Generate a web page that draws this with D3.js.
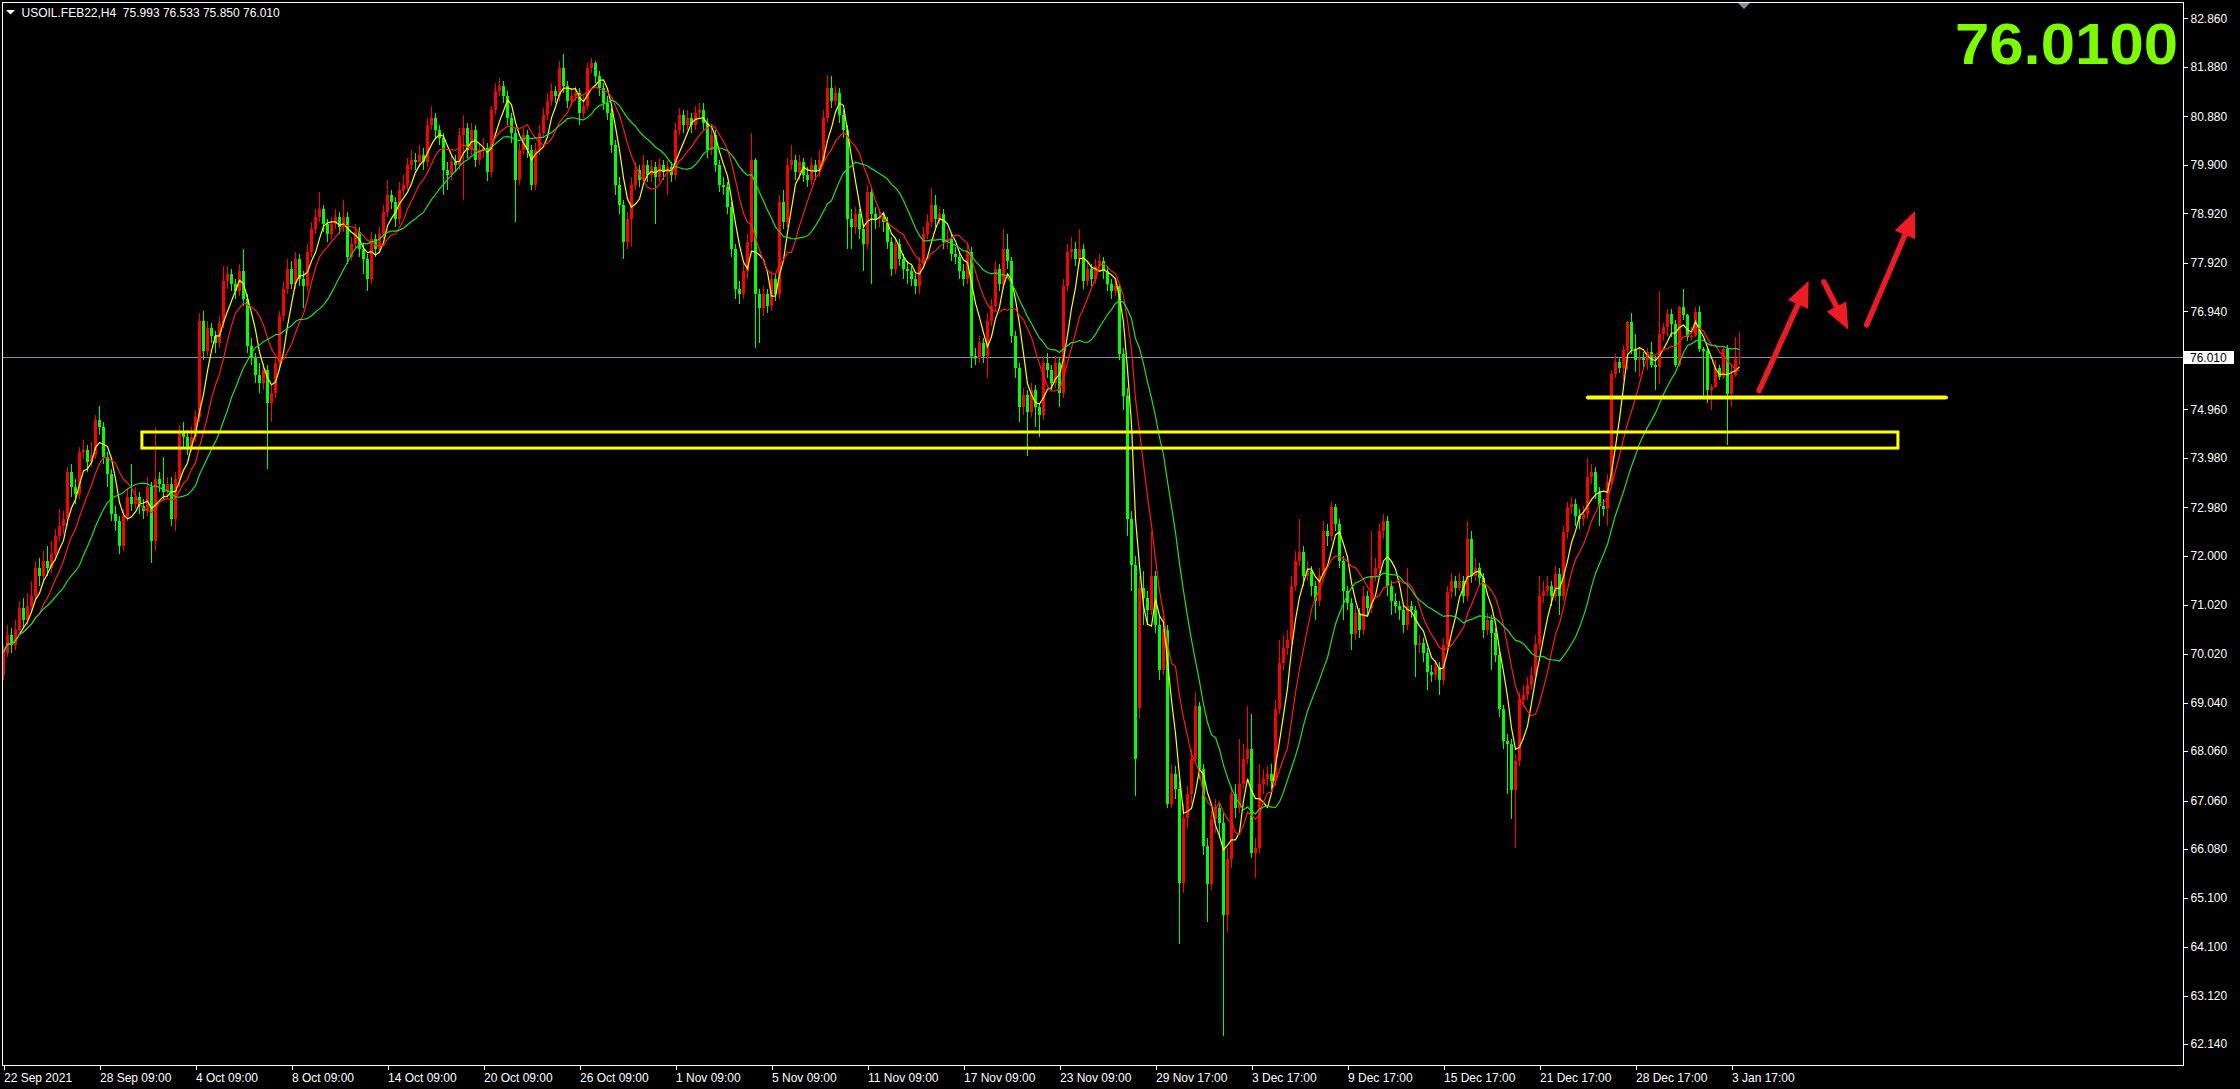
<!DOCTYPE html>
<html><head><meta charset="utf-8">
<script src="https://cdn.jsdelivr.net/npm/d3@7"></script>
<style>html,body{margin:0;padding:0;background:#000;overflow:hidden}</style>
</head><body>
<svg id="c" width="2240" height="1089" style="display:block;background:#000"></svg>
<script>
// ---------- data ----------
const symbolTitle = "USOIL.FEB22,H4";
const headerValues = ["75.993", "76.533", "75.850", "76.010"];
const bigPriceText = "76.0100";
const lastPrice = 76.01;
const lastPriceLabel = "76.010";

const closes = [
70.05,70.4,70.2,70.5,70.95,70.7,71.0,71.2,71.75,71.6,
71.9,71.75,72.05,72.4,72.6,72.75,73.7,73.4,73.25,74.1,
74.15,73.9,74.05,74.75,74.6,74.0,73.65,72.85,72.7,72.2,
72.8,73.2,73.05,73.2,73.0,72.9,73.4,72.3,73.55,73.45,
73.3,73.45,72.75,73.55,74.5,74.4,74.2,74.4,74.8,76.75,
76.15,76.6,76.45,76.3,76.7,77.55,77.7,77.5,77.35,77.75,
77.2,76.25,76.0,75.65,75.5,75.75,75.1,75.3,75.9,76.85,
77.4,77.8,77.5,78.0,77.6,77.45,78.15,78.6,78.85,79.0,
78.7,78.5,78.7,78.85,78.65,78.85,78.05,78.3,78.55,78.2,
78.0,77.6,78.4,78.2,78.5,78.95,79.3,79.15,78.8,79.4,
79.5,79.9,80.0,79.95,80.1,79.95,80.7,80.85,80.6,80.45,
79.8,79.7,79.95,79.9,80.5,80.65,80.2,80.6,80.0,80.2,
80.25,79.75,81.0,81.4,81.5,81.3,80.85,80.55,79.6,80.2,
80.5,80.2,79.5,80.2,80.55,80.9,81.2,81.4,81.3,81.85,
81.5,81.2,81.3,81.35,80.95,81.1,81.85,81.95,81.7,81.45,
81.15,80.95,80.3,79.5,79.1,78.35,78.8,79.5,79.8,79.6,
79.9,79.7,79.85,79.65,79.9,79.75,79.85,79.7,80.6,80.9,
80.7,80.85,80.7,80.95,81.0,80.75,80.2,80.5,79.9,79.5,
79.45,79.05,78.2,77.4,77.3,77.75,78.35,80.0,77.3,77.0,
77.3,77.05,77.6,77.3,79.15,78.75,79.9,80.0,79.75,79.95,
79.7,79.6,79.9,79.75,80.0,80.85,81.45,81.2,81.35,80.9,
80.6,78.8,78.65,78.9,78.6,78.3,79.35,78.9,78.8,78.85,
78.75,78.35,77.8,78.3,78.0,77.8,77.75,77.6,77.45,77.9,
78.5,78.75,79.1,78.8,78.9,78.35,78.4,78.1,78.05,77.75,
77.6,78.15,76.05,76.0,76.3,76.05,76.75,77.05,77.8,77.5,
78.2,77.95,76.45,75.8,75.0,75.25,74.9,75.35,75.0,74.85,
75.9,75.75,75.5,75.9,75.3,77.45,78.15,78.2,78.0,78.2,
77.55,77.8,77.6,77.85,77.95,77.75,77.5,77.35,77.45,76.08,
75.23,72.75,71.81,67.9,71.36,71.15,70.9,71.6,70.6,69.7,
70.5,67.0,67.6,67.3,65.4,66.7,67.2,67.9,68.97,67.7,
66.15,65.38,66.68,66.9,66.6,64.75,65.87,67.2,66.9,67.4,
67.9,68.1,66.0,66.1,67.4,67.5,67.6,67.45,68.9,69.83,
70.15,70.3,71.4,71.9,72.08,71.6,71.7,71.4,71.1,71.6,
72.5,72.4,72.98,72.65,71.9,71.3,71.05,70.42,70.85,70.5,
71.2,70.95,71.6,71.75,72.5,72.7,71.4,71.1,71.0,70.9,
70.6,71.0,70.9,70.2,70.25,70.05,69.65,69.6,69.75,69.5,
70.2,71.27,71.5,71.35,71.5,71.2,72.35,71.6,71.75,71.55,
70.5,70.7,70.45,70.0,68.9,68.26,68.2,67.27,67.85,69.1,
69.2,69.4,69.6,70.23,71.2,71.3,71.4,71.2,71.63,71.2,
72.48,72.98,73.05,72.8,72.75,72.85,73.6,73.7,73.3,73.0,
72.95,73.5,75.68,75.92,75.8,76.17,76.72,76.19,75.95,76.0,
75.95,76.12,75.85,75.82,76.49,76.62,76.89,76.69,75.85,77.03,
76.86,76.42,76.45,76.93,76.19,76.15,75.35,75.42,75.8,75.62,
76.19,75.28,75.65,75.98,76.01];

const highs = [
70.2,70.6,70.55,70.7,71.1,71.15,71.25,71.5,71.9,71.95,
72.1,72.2,72.3,72.55,72.95,72.9,73.8,73.85,73.55,74.2,
74.35,74.25,74.3,74.85,75.03,74.7,74.1,73.75,73.0,72.8,
72.95,73.35,73.85,73.4,73.3,73.15,73.6,73.5,74.6,73.7,
74.0,73.6,73.6,73.7,74.65,74.7,74.55,74.6,74.95,76.9,
76.95,76.75,76.7,76.55,76.85,77.85,77.85,77.8,77.6,77.9,
78.2,77.3,76.4,76.1,75.9,75.9,75.85,75.45,76.0,76.95,
77.55,78.0,77.95,78.15,78.1,77.75,78.3,78.75,79.0,79.35,
79.1,78.8,78.85,79.0,78.95,79.2,78.95,78.45,78.7,78.65,
78.3,78.1,78.55,78.5,78.65,79.1,79.6,79.4,79.25,79.55,
79.7,80.05,80.2,80.15,80.3,80.25,80.85,81.1,80.95,80.7,
80.55,79.95,80.1,80.1,80.65,80.9,80.75,80.75,80.7,80.35,
80.45,80.35,81.1,81.55,81.66,81.6,81.4,80.95,80.65,80.35,
80.65,80.6,80.3,80.35,80.7,81.05,81.35,81.55,81.5,82.0,
82.15,81.6,81.45,81.5,81.45,81.3,81.95,82.05,82.0,81.8,
81.55,81.3,81.05,80.4,79.65,79.2,78.95,79.65,79.95,79.9,
80.1,80.0,80.0,79.95,80.05,80.0,80.0,79.95,80.75,81.05,
81.0,81.0,80.95,81.1,81.15,81.15,80.85,80.65,80.6,80.0,
79.65,79.55,79.15,78.3,77.55,77.95,78.5,80.55,80.05,77.4,
77.45,77.4,77.75,77.7,79.3,79.4,80.05,80.3,80.1,80.1,
80.05,79.85,80.05,80.0,80.2,81.0,81.72,81.7,81.5,81.45,
81.0,80.7,79.0,79.05,79.0,78.7,79.5,79.45,79.05,79.0,
78.95,78.85,78.45,78.45,78.4,78.1,77.95,77.85,77.7,78.05,
78.65,78.9,79.43,79.3,79.05,79.0,78.6,78.5,78.25,78.15,
77.9,78.3,78.25,76.2,76.45,76.4,76.9,77.2,77.95,77.9,
78.6,78.5,78.05,76.55,75.9,75.4,75.35,75.5,75.45,75.1,
76.05,76.1,75.85,76.05,76.0,77.6,78.3,78.45,78.35,78.6,
78.3,77.95,77.9,78.0,78.1,78.05,77.85,77.6,77.6,77.5,
76.2,75.4,72.9,72.0,71.6,71.7,71.3,72.48,71.7,70.8,
70.9,70.6,67.8,67.75,67.45,67.0,67.35,68.1,69.25,69.05,
67.8,66.3,66.85,67.1,67.0,66.8,66.1,67.35,67.4,68.3,
68.2,68.97,68.8,66.3,67.8,67.7,67.75,67.8,69.1,70.3,
70.4,70.5,71.6,72.1,72.75,72.2,71.9,71.8,71.5,71.75,
72.7,72.65,73.1,73.05,72.75,72.0,71.4,71.15,71.0,70.95,
71.4,71.3,72.5,71.95,72.65,72.85,72.8,71.5,71.25,71.1,
71.0,71.75,71.1,71.0,70.4,70.35,70.15,69.8,69.9,69.85,
70.35,71.4,71.65,71.6,71.65,71.6,72.71,72.5,71.95,71.85,
71.65,70.85,70.8,70.55,70.1,69.0,68.4,68.3,68.0,69.25,
69.4,69.55,69.75,70.4,71.6,71.5,71.6,71.5,71.8,71.75,
72.6,73.1,73.2,73.15,72.95,73.0,73.97,73.85,73.8,73.4,
73.15,73.65,75.75,76.08,76.0,76.26,76.75,76.9,76.49,76.22,
76.12,76.2,76.32,76.05,77.36,76.7,76.99,76.99,76.76,77.06,
77.4,76.89,76.62,77.03,77.06,76.22,76.22,75.48,75.95,75.85,
76.22,76.26,75.88,76.42,76.533];

const lows = [
69.5,69.95,70.05,70.1,70.4,70.55,70.6,70.85,71.1,71.4,
71.45,71.6,71.65,71.9,72.3,72.45,72.6,73.2,73.05,73.15,
73.95,73.7,73.8,73.95,74.45,73.85,73.4,72.7,72.5,72.05,
72.1,72.7,72.9,72.95,72.85,72.75,72.8,71.85,72.1,73.3,
73.15,73.15,72.6,72.5,73.4,74.2,74.05,74.1,74.3,74.7,
75.95,76.05,76.3,76.1,76.2,76.6,77.4,77.35,77.2,77.25,
77.05,76.1,75.85,75.5,75.3,75.35,73.75,74.7,75.2,75.8,
76.75,77.3,77.4,77.4,77.45,77.0,77.35,78.05,78.5,78.75,
78.55,78.35,78.4,78.6,78.5,78.55,77.9,77.95,78.2,78.05,
77.7,77.35,77.5,78.05,78.1,78.4,78.85,79.0,78.65,78.7,
79.3,79.4,79.8,79.8,79.85,79.8,79.85,80.6,80.45,80.3,
79.3,79.4,79.6,79.75,79.8,79.2,80.05,80.1,79.85,79.9,
80.05,79.57,79.65,80.9,81.3,81.15,80.7,80.35,78.74,79.5,
80.1,80.05,79.4,79.4,80.1,80.45,80.8,81.1,81.15,81.2,
81.35,81.05,81.1,81.2,80.7,80.85,81.0,81.75,81.55,81.3,
81.0,80.8,80.15,79.3,78.9,78.0,78.2,78.25,79.4,79.45,
79.5,79.55,79.55,78.7,79.55,79.6,79.3,79.55,79.6,80.5,
80.55,80.6,80.55,80.6,80.85,80.6,80.05,80.1,79.75,79.35,
79.3,78.9,78.05,77.2,77.1,77.2,77.6,78.2,76.2,76.3,
76.85,76.9,76.95,77.15,77.2,78.6,78.65,79.8,79.6,79.6,
79.55,79.45,79.5,79.6,79.65,79.9,80.75,81.05,81.1,80.75,
80.45,78.2,78.2,78.5,78.4,77.75,78.2,77.5,78.6,78.65,
78.55,78.2,77.65,77.7,77.85,77.6,77.5,77.45,77.3,77.3,
77.8,78.4,78.65,78.65,78.7,78.2,78.2,77.95,77.9,77.6,
77.45,77.5,75.8,75.85,75.9,75.9,75.6,76.65,76.95,77.35,
77.4,77.8,76.3,75.6,74.7,74.85,74.03,74.8,74.6,74.4,
74.75,75.6,75.35,75.4,75.0,75.2,77.35,78.0,77.85,77.9,
77.4,77.45,77.45,77.5,77.75,77.6,77.35,77.2,77.25,75.95,
74.95,72.4,71.3,67.15,68.7,70.6,70.6,70.8,70.45,69.5,
69.6,66.9,66.9,67.1,64.17,65.2,66.5,67.0,67.8,67.5,
65.95,64.6,65.25,66.4,66.3,62.3,64.4,65.7,66.7,66.8,
67.3,67.8,65.9,65.5,66.0,67.2,67.35,67.3,67.35,68.8,
69.7,70.0,70.2,71.3,71.8,71.4,71.5,71.2,70.7,71.0,
71.5,72.2,72.3,72.5,71.75,70.7,70.9,70.1,70.3,70.35,
70.4,70.8,70.85,71.5,71.65,72.35,71.2,70.8,70.85,70.7,
70.45,70.5,70.75,69.56,70.05,69.85,69.3,69.45,69.5,69.2,
69.4,70.1,71.15,71.2,71.3,71.05,71.1,71.45,71.5,71.4,
70.35,70.4,69.7,69.85,68.75,68.1,67.2,66.68,66.1,67.75,
68.95,69.1,69.3,69.5,70.1,71.05,71.2,71.0,71.1,70.8,
71.1,72.35,72.85,72.6,72.55,72.6,72.75,73.45,73.15,72.6,
72.8,72.6,73.4,75.6,75.7,75.55,75.75,76.08,75.72,75.61,
75.82,75.75,75.8,75.35,75.48,76.35,76.45,76.42,75.82,75.82,
76.76,76.35,76.35,76.42,76.12,75.21,75.1,74.94,75.4,75.55,
75.58,74.24,75.01,75.62,75.85];

// opens equal the previous close except where listed (gaps / first bar / current bar)
const openOverrideBars = [0, 284, 434];
const openOverrideValues = [69.6, 68.93, 75.993];

const maPeriods = [5, 10, 20];
const maColors = ["#ffff00", "#ff1a1a", "#22dd22"];

const yTickValues = [82.86,81.88,80.88,79.90,78.92,77.92,76.94,74.96,73.98,72.98,72.00,71.02,70.02,69.04,68.06,67.06,66.08,65.10,64.10,63.12,62.14];
const xTickBars = [0,24,48,72,96,120,144,168,192,216,240,264,288,312,336,360,384,408,432];
const xTickLabels = ["22 Sep 2021","28 Sep 09:00","4 Oct 09:00","8 Oct 09:00","14 Oct 09:00","20 Oct 09:00","26 Oct 09:00","1 Nov 09:00","5 Nov 09:00","11 Nov 09:00","17 Nov 09:00","23 Nov 09:00","29 Nov 17:00","3 Dec 17:00","9 Dec 17:00","15 Dec 17:00","21 Dec 17:00","28 Dec 17:00","3 Jan 17:00"];

// hand-drawn annotations (bar index, price)
const zoneBars = [34.6, 473.6];
const zonePrices = [74.18, 74.505];
const supportBars = [396.1, 485.6];
const supportPrice = 75.20;
const arrowTails = [[438.9, 75.34], [455.1, 77.54], [465.8, 76.67]];
const arrowTips  = [[451.3, 77.56], [461.2, 76.57], [477.9, 78.97]];

// ---------- layout ----------
const W = 2240, H = 1089;
const plotL = 2, plotT = 2, plotR = 2183, plotB = 1065;

const x = d3.scaleLinear().domain([0, 545]).range([3.5, 3.5 + 4 * 545]);
const y = d3.scaleLinear().domain([62.14, 82.86]).range([1044.1, 18.4]);

const svg = d3.select("#c");
const FONT = "'Liberation Sans', Arial, sans-serif";

svg.append("defs").append("clipPath").attr("id", "plot")
  .append("rect").attr("x", plotL + 1).attr("y", plotT + 1)
  .attr("width", plotR - plotL - 1).attr("height", plotB - plotT - 1);

const bars = closes.map((c, i) => {
  const k = openOverrideBars.indexOf(i);
  const o = k >= 0 ? openOverrideValues[k] : closes[i - 1];
  return { i, o, c, h: highs[i], l: lows[i] };
});

const g = svg.append("g").attr("clip-path", "url(#plot)");

// current price line
g.append("line").attr("x1", plotL).attr("x2", plotR)
  .attr("y1", Math.round(y(lastPrice)) + 0.5).attr("y2", Math.round(y(lastPrice)) + 0.5)
  .attr("stroke", "#8a919e").attr("stroke-width", 1);

// candles
const cg = g.append("g").attr("shape-rendering", "crispEdges");
const up = "#ff0000", dn = "#00ff00";
cg.selectAll("rect.w").data(bars).join("rect").attr("class", "w")
  .attr("x", d => x(d.i) - 0.5).attr("width", 1)
  .attr("y", d => Math.round(y(d.h)))
  .attr("height", d => Math.max(1, Math.round(y(d.l)) - Math.round(y(d.h))))
  .attr("fill", d => d.c >= d.o ? up : dn);
cg.selectAll("rect.b").data(bars).join("rect").attr("class", "b")
  .attr("x", d => x(d.i) - 1.5).attr("width", 3)
  .attr("y", d => Math.round(y(Math.max(d.o, d.c))))
  .attr("height", d => Math.max(1, Math.round(y(Math.min(d.o, d.c))) - Math.round(y(Math.max(d.o, d.c)))))
  .attr("fill", d => d.c >= d.o ? up : dn);

// moving averages (simple, on closes)
maPeriods.forEach((p, k) => {
  const ma = closes.map((c, i) => {
    const s = Math.max(0, i - p + 1);
    return d3.mean(closes.slice(s, i + 1));
  });
  g.append("path").datum(ma)
    .attr("fill", "none").attr("stroke", maColors[k]).attr("stroke-width", 1.2)
    .attr("d", d3.line().x((d, i) => x(i)).y(d => y(d)));
});

// yellow zone box
g.append("rect")
  .attr("x", x(zoneBars[0])).attr("y", y(zonePrices[1]))
  .attr("width", x(zoneBars[1]) - x(zoneBars[0]))
  .attr("height", y(zonePrices[0]) - y(zonePrices[1]))
  .attr("fill", "none").attr("stroke", "#ffff00").attr("stroke-width", 3);

// support line
g.append("line")
  .attr("x1", x(supportBars[0])).attr("x2", x(supportBars[1]))
  .attr("y1", y(supportPrice)).attr("y2", y(supportPrice))
  .attr("stroke", "#ffff00").attr("stroke-width", 4).attr("stroke-linecap", "round");

// red arrows
arrowTails.forEach((t, k) => {
  const p = arrowTips[k];
  const x0 = x(t[0]), y0 = y(t[1]), x1 = x(p[0]), y1 = y(p[1]);
  const dx = x1 - x0, dy = y1 - y0, L = Math.hypot(dx, dy);
  const ux = dx / L, uy = dy / L, px = -uy, py = ux;
  const hl = 26, hw = 11;
  const bx = x1 - ux * hl, by = y1 - uy * hl;
  g.append("line").attr("x1", x0).attr("y1", y0)
    .attr("x2", bx + ux * 4).attr("y2", by + uy * 4)
    .attr("stroke", "#ec1c24").attr("stroke-width", 5.5).attr("stroke-linecap", "round");
  g.append("path")
    .attr("d", `M${x1},${y1}L${bx + px * hw},${by + py * hw}L${bx - px * hw},${by - py * hw}Z`)
    .attr("fill", "#ec1c24");
});

// frame
svg.append("rect").attr("x", plotL + 0.5).attr("y", plotT + 0.5)
  .attr("width", plotR - plotL).attr("height", plotB - plotT)
  .attr("fill", "none").attr("stroke", "#ffffff").attr("stroke-width", 1)
  .attr("shape-rendering", "crispEdges");

// shift marker
svg.append("path").attr("d", "M1738,3L1750,3L1744,9Z").attr("fill", "#8a919e");

// right axis
const yAxis = d3.axisRight(y).tickValues(yTickValues)
  .tickFormat(d => d.toFixed(3)).tickSize(4).tickSizeOuter(0);
const ya = svg.append("g").attr("transform", `translate(${plotR + 0.5},0)`).call(yAxis);
ya.select(".domain").remove();
ya.selectAll("line").attr("stroke", "#fff").attr("shape-rendering", "crispEdges");
ya.selectAll("text").attr("fill", "#fff").attr("font-family", FONT).attr("font-size", 12).attr("x", 7);

// current price label
const yp = y(lastPrice);
svg.append("rect").attr("x", plotR + 1).attr("y", yp - 6.5).attr("width", 50).attr("height", 13).attr("fill", "#fff");
svg.append("text").attr("x", plotR + 7).attr("y", yp).attr("dy", "0.35em")
  .attr("fill", "#000").attr("font-family", FONT).attr("font-size", 12).text(lastPriceLabel);

// bottom axis
const xAxis = d3.axisBottom(x).tickValues(xTickBars)
  .tickFormat((d, i) => xTickLabels[i]).tickSize(4).tickSizeOuter(0);
const xa = svg.append("g").attr("transform", `translate(0,${plotB + 0.5})`).call(xAxis);
xa.select(".domain").remove();
xa.selectAll("line").attr("stroke", "#fff").attr("shape-rendering", "crispEdges");
xa.selectAll("text").attr("fill", "#fff").attr("font-family", FONT).attr("font-size", 12)
  .attr("text-anchor", "start").attr("y", 7).attr("dy", "0.75em");

// header
svg.append("path").attr("d", "M6,10L15,10L10.5,14.5Z").attr("fill", "#fff");
svg.append("text").attr("x", 21.5).attr("y", 16.5).attr("fill", "#fff")
  .attr("font-family", FONT).attr("font-size", 12).attr("xml:space", "preserve")
  .text(symbolTitle + "  " + headerValues.join(" "));

// big price
svg.append("text").attr("x", 1955).attr("y", 63.5)
  .attr("fill", "#7cfc00").attr("font-family", FONT).attr("font-weight", "bold")
  .attr("font-size", 57).attr("textLength", 223).attr("lengthAdjust", "spacingAndGlyphs")
  .text(bigPriceText);
</script>
</body></html>
